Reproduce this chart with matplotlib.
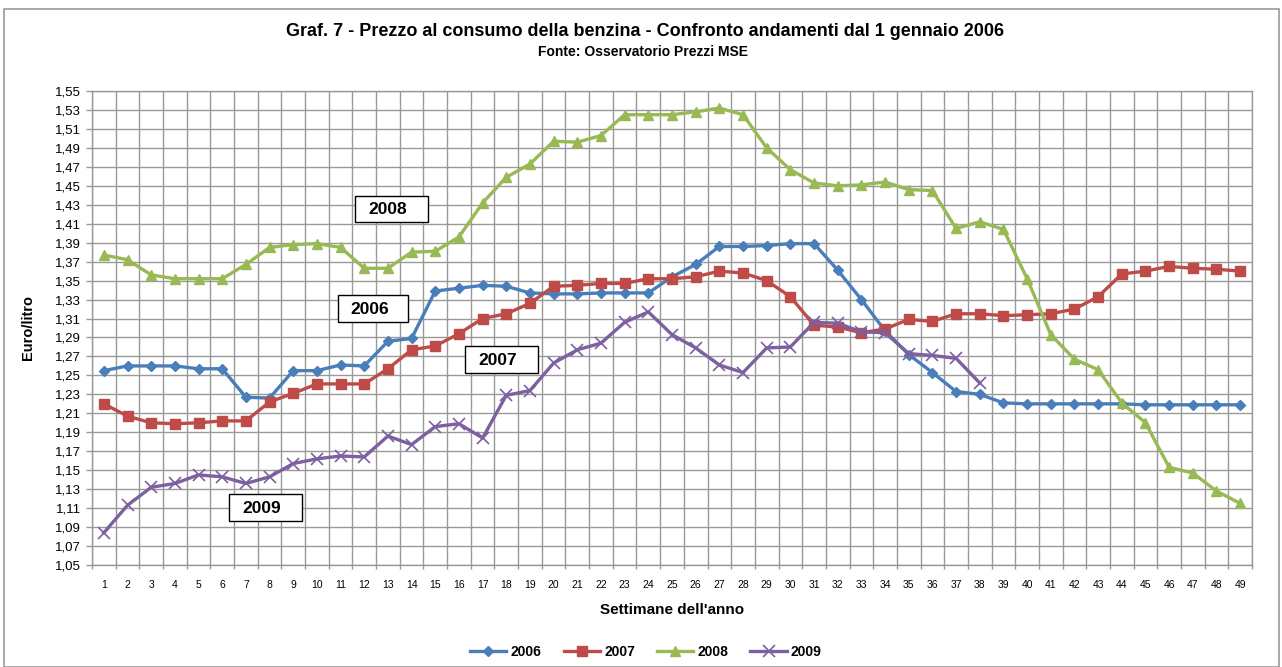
import matplotlib
matplotlib.use("Agg")
import matplotlib.pyplot as plt
from matplotlib.patches import Rectangle
from matplotlib.ticker import FixedLocator

plt.rcParams['font.family'] = ['Liberation Sans', 'DejaVu Sans']

weeks = list(range(1, 50))
s2006 = [1.255, 1.260, 1.260, 1.260, 1.257, 1.257, 1.227, 1.226, 1.255, 1.255,
         1.261, 1.260, 1.286, 1.289, 1.339, 1.342, 1.345, 1.344, 1.337, 1.336,
         1.336, 1.337, 1.337, 1.337, 1.354, 1.367, 1.386, 1.386, 1.387, 1.389,
         1.389, 1.361, 1.330, 1.297, 1.272, 1.253, 1.233, 1.230, 1.221, 1.220,
         1.220, 1.220, 1.220, 1.220, 1.219, 1.219, 1.219, 1.219, 1.219]
s2007 = [1.220, 1.207, 1.200, 1.199, 1.200, 1.202, 1.202, 1.222, 1.231, 1.241,
         1.241, 1.241, 1.257, 1.277, 1.281, 1.294, 1.310, 1.315, 1.326, 1.344,
         1.345, 1.347, 1.347, 1.352, 1.352, 1.354, 1.360, 1.358, 1.350, 1.333,
         1.303, 1.301, 1.295, 1.299, 1.309, 1.307, 1.315, 1.315, 1.313, 1.314,
         1.315, 1.320, 1.333, 1.357, 1.360, 1.365, 1.363, 1.362, 1.360]
s2008 = [1.377, 1.372, 1.356, 1.352, 1.352, 1.352, 1.367, 1.385, 1.388, 1.389,
         1.385, 1.363, 1.363, 1.380, 1.381, 1.396, 1.432, 1.459, 1.473, 1.497,
         1.496, 1.503, 1.525, 1.525, 1.525, 1.528, 1.532, 1.525, 1.490, 1.467,
         1.453, 1.450, 1.451, 1.454, 1.446, 1.445, 1.405, 1.412, 1.404, 1.352,
         1.293, 1.267, 1.256, 1.221, 1.200, 1.153, 1.147, 1.128, 1.115]
s2009 = [1.084, 1.113, 1.132, 1.136, 1.145, 1.143, 1.136, 1.143, 1.157, 1.162,
         1.165, 1.164, 1.186, 1.177, 1.196, 1.199, 1.184, 1.229, 1.234, 1.263,
         1.277, 1.284, 1.306, 1.317, 1.293, 1.279, 1.261, 1.253, 1.279, 1.280,
         1.306, 1.305, 1.296, 1.295, 1.273, 1.271, 1.268, 1.242]

series_names = ['2006', '2007', '2008', '2009']
y_ticks = [1.05 + 0.02 * i for i in range(26)]

W, H = 1282, 667
fig = plt.figure(figsize=(W / 100, H / 100), dpi=100)
fig.patches.append(Rectangle((4 / W, 0), (1279 - 4) / W, 1 - 9 / H, transform=fig.transFigure,
                             fill=False, edgecolor='#9a9a9a', linewidth=1.2))

ax = fig.add_axes([92 / W, 1 - 565 / H, (1252 - 92) / W, (565 - 91) / H])

grid_c = '#999999'
ax.set_xlim(0.5, 49.5)
ax.set_ylim(1.05, 1.55)
ax.yaxis.set_major_locator(FixedLocator(y_ticks))
ax.set_yticklabels([f"{v:.2f}".replace('.', ',') for v in y_ticks], fontsize=9.5)
ax.xaxis.set_major_locator(FixedLocator(weeks))
ax.set_xticklabels([str(w) for w in weeks], fontsize=7.5)
ax.xaxis.set_minor_locator(FixedLocator([w + 0.5 for w in range(0, 50)]))
ax.tick_params(axis='x', which='major', length=0, pad=11)
ax.tick_params(axis='x', which='minor', length=3, color=grid_c, width=1)
ax.tick_params(axis='y', which='major', length=4, color=grid_c, width=1, pad=4)
ax.grid(True, which='minor', axis='x', color=grid_c, linewidth=1)
ax.grid(True, which='major', axis='y', color=grid_c, linewidth=1)
ax.set_axisbelow(True)
for sp in ax.spines.values():
    sp.set_color(grid_c)
    sp.set_linewidth(1)

lw = 2.4
ax.plot(weeks, s2006, color='#4A7EBB', lw=lw, marker='D', ms=5, label=series_names[0], zorder=3)
ax.plot(weeks, s2007, color='#BE4B48', lw=lw, marker='s', ms=7, label=series_names[1], zorder=3)
ax.plot(weeks, s2008, color='#98B954', lw=lw, marker='^', ms=7.5, label=series_names[2], zorder=3)
ax.plot(weeks[:len(s2009)], s2009, color='#7D60A0', lw=lw, marker='x', ms=8, mew=1.2,
        label=series_names[3], zorder=3)

fig.text(28 / W, 1 - 327 / H, 'Euro/litro', rotation=90, ha='center', va='center',
         fontsize=10.5, fontweight='bold')
fig.text(672 / W, 1 - 610 / H, "Settimane dell'anno", ha='center', va='center',
         fontsize=11, fontweight='bold')

fig.text(645 / W, 1 - 32 / H, 'Graf. 7 - Prezzo al consumo della benzina - Confronto andamenti dal 1 gennaio 2006',
         ha='center', va='center', fontsize=13, fontweight='bold')
fig.text(643 / W, 1 - 52 / H, 'Fonte: Osservatorio Prezzi MSE', ha='center', va='center',
         fontsize=10, fontweight='bold')

# annotation boxes (pixel positions in figure)
boxes = [('2008', 355, 196, 428, 222), ('2006', 338, 295, 408, 322),
         ('2007', 465, 346, 538, 373), ('2009', 229, 494, 302, 521)]
for txt, x0, y0, x1, y1 in boxes:
    fig.patches.append(Rectangle((x0 / W, 1 - y1 / H), (x1 - x0) / W, (y1 - y0) / H,
                                 transform=fig.transFigure, facecolor='white',
                                 edgecolor='black', linewidth=1.0, zorder=5))
    fig.text((x0 + (x1 - x0) * 0.45) / W, 1 - ((y0 + y1) / 2 + 1) / H, txt, ha='center', va='center',
             fontsize=12.5, fontweight='bold', zorder=6)

leg = fig.legend(loc='center', bbox_to_anchor=(646 / W, 1 - 652 / H), ncol=4, frameon=False,
                 prop={'size': 10, 'weight': 'bold'}, handlelength=2.6, columnspacing=1.6,
                 handletextpad=0.3)

fig.savefig('out.png', dpi=100)
